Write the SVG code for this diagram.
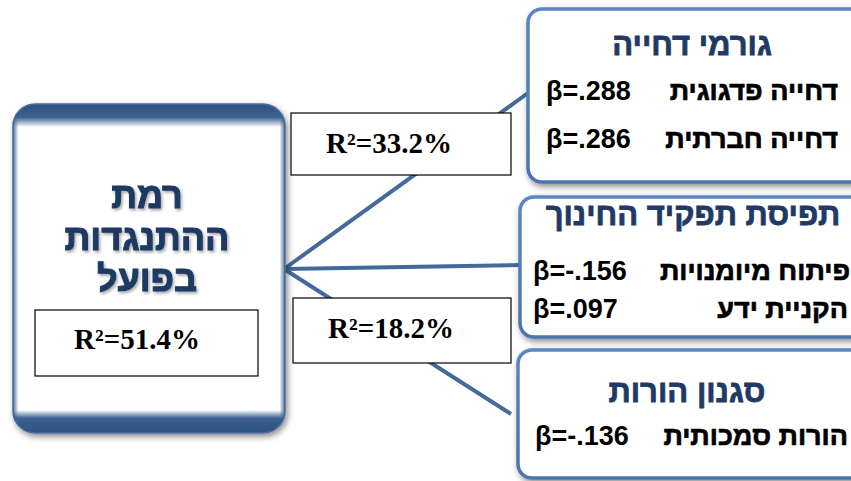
<svg xmlns="http://www.w3.org/2000/svg" width="851" height="481" viewBox="0 0 851 481">
<style>
.conn{stroke:#44699B;stroke-width:4;fill:none;stroke-linecap:butt}
.lbl{fill:#fff;stroke:#000;stroke-width:1.2}
.r2{font-family:"Liberation Serif","Times New Roman",serif;font-weight:bold;font-size:29px;fill:#000}
.beta{font-family:"Liberation Sans",Arial,"DejaVu Sans",sans-serif;font-weight:bold;font-size:27px;fill:#000}
.heb{font-family:"Liberation Sans",Arial,"DejaVu Sans",sans-serif;font-weight:bold;font-size:27px;fill:#000;stroke:#000;stroke-width:0.7}
.ttl{font-family:"Liberation Sans",Arial,"DejaVu Sans",sans-serif;font-weight:bold;font-size:31px;fill:#1F3A64;stroke:#1F3A64;stroke-width:0.8}
.main{font-family:"Liberation Sans",Arial,"DejaVu Sans",sans-serif;font-weight:bold;font-size:36px;fill:#1F3A64;stroke:#1F3A64;stroke-width:1}
.rbox{fill:#fff;stroke:url(#rb);stroke-width:3.5}
</style>
<defs>
<linearGradient id="lb" x1="0" y1="0" x2="0" y2="1">
<stop offset="0" stop-color="#2E5283"/>
<stop offset="0.04" stop-color="#3B6090"/>
<stop offset="0.07" stop-color="#ffffff"/>
<stop offset="0.93" stop-color="#ffffff"/>
<stop offset="0.955" stop-color="#3B6090"/>
<stop offset="1" stop-color="#2E5283"/>
</linearGradient>
<linearGradient id="lside" x1="0" y1="0" x2="1" y2="0">
<stop offset="0" stop-color="#3B6090" stop-opacity="0.9"/>
<stop offset="0.02" stop-color="#3B6090" stop-opacity="0"/>
<stop offset="0.98" stop-color="#3B6090" stop-opacity="0"/>
<stop offset="1" stop-color="#3B6090" stop-opacity="0.9"/>
</linearGradient>
<linearGradient id="rb" x1="0" y1="0" x2="0" y2="1">
<stop offset="0" stop-color="#5B86C0"/>
<stop offset="1" stop-color="#4A74AC"/>
</linearGradient>
<filter id="sh" x="-10%" y="-10%" width="120%" height="120%">
<feDropShadow dx="2" dy="3" stdDeviation="3" flood-color="#000" flood-opacity="0.45"/>
</filter>
<filter id="tsh" x="-10%" y="-20%" width="120%" height="140%">
<feDropShadow dx="1.5" dy="2" stdDeviation="1.5" flood-color="#000" flood-opacity="0.35"/>
</filter>
</defs>

<g id="connectors">
<line class="conn" x1="284" y1="269" x2="528" y2="93"/>
<line class="conn" x1="284" y1="269" x2="522" y2="265"/>
<line class="conn" x1="284" y1="269" x2="511" y2="414"/>
</g>

<g id="node-main">
<rect x="13" y="104" width="272" height="329" rx="22" fill="url(#lb)" stroke="#4C6E9C" stroke-width="1.5" filter="url(#sh)"/>
<rect x="13" y="104" width="272" height="329" rx="22" fill="url(#lside)"/>
<g filter="url(#tsh)">
<text class="main" x="147" y="208" text-anchor="middle">רמת</text>
<text class="main" x="147" y="250" text-anchor="middle">ההתנגדות</text>
<text class="main" x="147" y="291" text-anchor="middle">בפועל</text>
</g>
<rect class="lbl" x="35" y="310" width="223" height="66"/>
<text class="r2" x="137" y="349" text-anchor="middle">R²=51.4%</text>
</g>

<g id="label-r2-upper">
<rect class="lbl" x="291" y="113" width="220" height="62"/>
<text class="r2" x="389" y="153" text-anchor="middle">R²=33.2%</text>
</g>

<g id="label-r2-lower">
<rect class="lbl" x="293" y="298" width="218" height="65"/>
<text class="r2" x="391" y="338" text-anchor="middle">R²=18.2%</text>
</g>

<g id="node-rejection">
<rect class="rbox" x="528" y="9" width="345" height="173" rx="14" filter="url(#sh)"/>
<text class="ttl" x="692" y="55" text-anchor="middle">גורמי דחייה</text>
<text class="heb" x="838" y="100" text-anchor="end">דחייה פדגוגית</text>
<text class="beta" x="546" y="100">β=.288</text>
<text class="heb" x="838" y="148" text-anchor="end">דחייה חברתית</text>
<text class="beta" x="546" y="148">β=.286</text>
</g>

<g id="node-education">
<rect class="rbox" x="520" y="197" width="355" height="140" rx="14" filter="url(#sh)"/>
<text class="ttl" x="693" y="225" text-anchor="middle">תפיסת תפקיד החינוך</text>
<text class="heb" x="850" y="280" text-anchor="end">פיתוח מיומנויות</text>
<text class="beta" x="533" y="280">β=-.156</text>
<text class="heb" x="848" y="318" text-anchor="end">הקניית ידע</text>
<text class="beta" x="533" y="318">β=.097</text>
</g>

<g id="node-parenting">
<rect class="rbox" x="518" y="350" width="357" height="128" rx="14" filter="url(#sh)"/>
<text class="ttl" x="687" y="402" text-anchor="middle">סגנון הורות</text>
<text class="heb" x="848" y="445" text-anchor="end">הורות סמכותית</text>
<text class="beta" x="535" y="445">β=-.136</text>
</g>
</svg>
